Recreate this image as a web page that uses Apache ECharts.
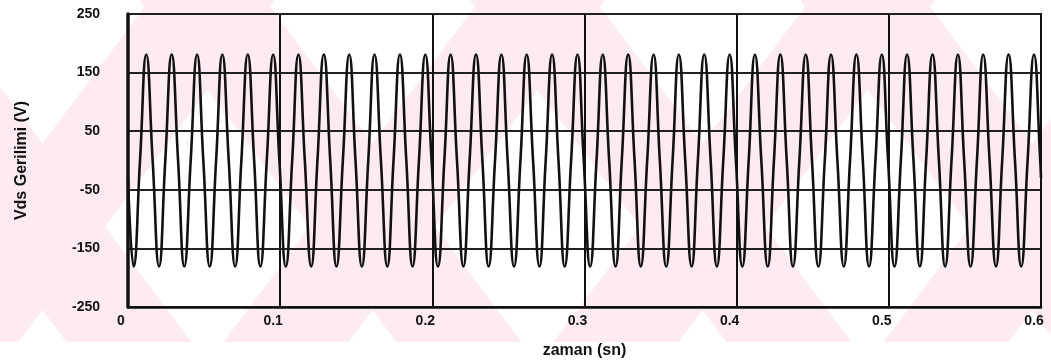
<!DOCTYPE html>
<html>
<head>
<meta charset="utf-8">
<script src="https://cdn.jsdelivr.net/npm/echarts@6/dist/echarts.min.js"></script>
<style>
  html, body { margin: 0; padding: 0; background: #fff; }
  #vds-chart { width: 1051px; height: 364px; }
</style>
</head>
<body>
<div id="vds-chart"></div>
<script>
// time samples (s): troughs, zero crossings, peaks
var times = [
  0,
  0.0037, 0.0079, 0.0120, 0.0162, 0.0204, 0.0245, 0.0287, 0.0329, 0.0370, 0.0412, 0.0454, 0.0495,
  0.0537, 0.0579, 0.0620, 0.0662, 0.0704, 0.0745, 0.0787, 0.0829, 0.0870, 0.0912, 0.0954, 0.0995,
  0.1037, 0.1079, 0.1120, 0.1162, 0.1204, 0.1245, 0.1287, 0.1329, 0.1370, 0.1412, 0.1454, 0.1495,
  0.1537, 0.1579, 0.1620, 0.1662, 0.1704, 0.1745, 0.1787, 0.1829, 0.1870, 0.1912, 0.1954, 0.1995,
  0.2037, 0.2079, 0.2120, 0.2162, 0.2204, 0.2245, 0.2287, 0.2329, 0.2370, 0.2412, 0.2454, 0.2495,
  0.2537, 0.2579, 0.2620, 0.2662, 0.2704, 0.2745, 0.2787, 0.2829, 0.2870, 0.2912, 0.2954, 0.2995,
  0.3037, 0.3079, 0.3120, 0.3162, 0.3204, 0.3245, 0.3287, 0.3329, 0.3370, 0.3412, 0.3454, 0.3495,
  0.3537, 0.3579, 0.3620, 0.3662, 0.3704, 0.3745, 0.3787, 0.3829, 0.3870, 0.3912, 0.3954, 0.3995,
  0.4037, 0.4079, 0.4120, 0.4162, 0.4204, 0.4245, 0.4287, 0.4329, 0.4370, 0.4412, 0.4454, 0.4495,
  0.4537, 0.4579, 0.4620, 0.4662, 0.4704, 0.4745, 0.4787, 0.4829, 0.4870, 0.4912, 0.4954, 0.4995,
  0.5037, 0.5079, 0.5120, 0.5162, 0.5204, 0.5245, 0.5287, 0.5329, 0.5370, 0.5412, 0.5454, 0.5495,
  0.5537, 0.5579, 0.5620, 0.5662, 0.5704, 0.5745, 0.5787, 0.5829, 0.5870, 0.5912, 0.5954, 0.5995,
  0.6
];

// Vds (V) at those samples
var volts = [
  -30,
  -181, 0, 181, 0, -181, 0, 181, 0, -181, 0, 181, 0,
  -181, 0, 181, 0, -181, 0, 181, 0, -181, 0, 181, 0,
  -181, 0, 181, 0, -181, 0, 181, 0, -181, 0, 181, 0,
  -181, 0, 181, 0, -181, 0, 181, 0, -181, 0, 181, 0,
  -181, 0, 181, 0, -181, 0, 181, 0, -181, 0, 181, 0,
  -181, 0, 181, 0, -181, 0, 181, 0, -181, 0, 181, 0,
  -181, 0, 181, 0, -181, 0, 181, 0, -181, 0, 181, 0,
  -181, 0, 181, 0, -181, 0, 181, 0, -181, 0, 181, 0,
  -181, 0, 181, 0, -181, 0, 181, 0, -181, 0, 181, 0,
  -181, 0, 181, 0, -181, 0, 181, 0, -181, 0, 181, 0,
  -181, 0, 181, 0, -181, 0, 181, 0, -181, 0, 181, 0,
  -181, 0, 181, 0, -181, 0, 181, 0, -181, 0, 181, 0,
  -30
];

var xTicks = [0, 0.1, 0.2, 0.3, 0.4, 0.5, 0.6];
var yTicks = [-250, -150, -50, 50, 150, 250];

var seriesData = times.map(function (t, i) { return [t, volts[i]]; });

// pink watermark bands behind the plot
var H = 342, slope = 0.75, bandW = 125;
var bands = [];
[-190, 140, 470, 800].forEach(function (a) {
  bands.push({
    type: 'polygon', z: -10, silent: true,
    shape: { points: [[a, 0], [a + bandW, 0], [a + bandW + slope * H, H], [a + slope * H, H]] },
    style: { fill: '#fdebef' }
  });
});
[150, 480, 810, 1140].forEach(function (a) {
  bands.push({
    type: 'polygon', z: -10, silent: true,
    shape: { points: [[a, 0], [a + bandW, 0], [a + bandW - slope * H, H], [a - slope * H, H]] },
    style: { fill: '#fdebef' }
  });
});

var chartDom = document.getElementById('vds-chart');
var chart = echarts.init(chartDom);
var option;

option = {
  animation: false,
  backgroundColor: '#fff',
  graphic: bands,
  grid: {
    left: 128,
    right: 10,
    top: 14,
    bottom: 57,
    show: true,
    borderColor: '#111',
    borderWidth: 2
  },
  xAxis: {
    type: 'value',
    min: xTicks[0],
    max: xTicks[xTicks.length - 1],
    interval: 0.1,
    name: 'zaman (sn)',
    nameLocation: 'middle',
    nameGap: 36,
    nameTextStyle: { fontFamily: 'Liberation Sans', fontWeight: 'bold', fontSize: 16, color: '#111' },
    axisLine: { onZero: false, lineStyle: { color: '#111', width: 2.5 } },
    axisTick: { show: false },
    axisLabel: {
      margin: 7,
      fontFamily: 'Liberation Sans', fontWeight: 'bold', fontSize: 14, color: '#111',
      padding: [0, 14, 0, 0],
      formatter: function (v) { return String(Math.round(v * 10) / 10); }
    },
    splitLine: { show: true, lineStyle: { color: '#111', width: 2 } }
  },
  yAxis: {
    type: 'value',
    min: yTicks[0],
    max: yTicks[yTicks.length - 1],
    interval: 100,
    name: 'Vds Gerilimi (V)',
    nameLocation: 'middle',
    nameGap: 98,
    nameTextStyle: { fontFamily: 'Liberation Sans', fontWeight: 'bold', fontSize: 16, color: '#111' },
    axisLine: { show: true, lineStyle: { color: '#111', width: 3.5 } },
    axisTick: { show: false },
    axisLabel: {
      margin: 28,
      fontFamily: 'Liberation Sans', fontWeight: 'bold', fontSize: 14, color: '#111'
    },
    splitLine: { show: true, lineStyle: { color: '#222', width: 1.8 } }
  },
  series: [
    {
      type: 'line',
      data: seriesData,
      showSymbol: false,
      smooth: true,
      lineStyle: { color: '#111', width: 2.6 },
      z: 5
    }
  ]
};
option && chart.setOption(option);
</script>
</body>
</html>
